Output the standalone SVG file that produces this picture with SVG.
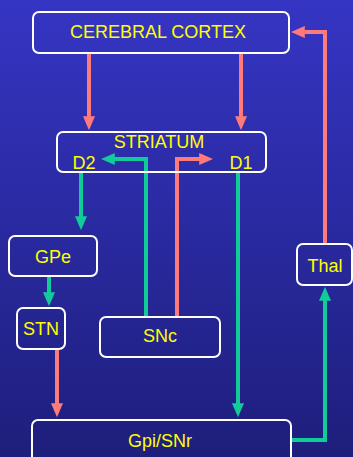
<svg xmlns="http://www.w3.org/2000/svg" width="353" height="457" viewBox="0 0 353 457">
<defs>
<linearGradient id="bg" x1="0" y1="0" x2="0" y2="1">
<stop offset="0" stop-color="#3535C4"/>
<stop offset="1" stop-color="#1E1E7C"/>
</linearGradient>
<marker id="ap" markerWidth="3.5" markerHeight="3" refX="2.2" refY="1.5" orient="auto" markerUnits="strokeWidth"><path d="M0,0 L3.5,1.5 L0,3 Z" fill="#FF7A7A"/></marker>
<marker id="ag" markerWidth="3.5" markerHeight="3" refX="2.2" refY="1.5" orient="auto" markerUnits="strokeWidth"><path d="M0,0 L3.5,1.5 L0,3 Z" fill="#11CC99"/></marker>
</defs>
<style>
.box{fill:none;stroke:#FFFFFF;stroke-width:2}
.t{font-family:"Liberation Sans",Arial,sans-serif;fill:#FFFF00;font-size:18px;text-anchor:middle}
.p{fill:none;stroke:#FF7A7A;stroke-width:4;marker-end:url(#ap)}
.g{fill:none;stroke:#11CC99;stroke-width:4;marker-end:url(#ag)}
</style>
<rect width="353" height="457" fill="url(#bg)"/>
<g id="connectors">
<path class="p" d="M89,53 V125"/>
<path class="p" d="M241,53 V125"/>
<path class="p" d="M325,244 V32 H296"/>
<path class="g" d="M146,317 V159 H106"/>
<path class="p" d="M177,317 V159 H208"/>
<path class="g" d="M81,173 V225"/>
<path class="g" d="M49,276 V301"/>
<path class="g" d="M238,173 V412"/>
<path class="p" d="M57,349 V412"/>
<path class="g" d="M291,440 H325 V292"/>
</g>
<g id="cortex"><rect class="box" x="33" y="12" width="256" height="41" rx="6"/><text class="t" x="158" y="38" font-size="19">CEREBRAL CORTEX</text></g>
<g id="striatum"><rect class="box" x="57" y="132" width="209" height="40" rx="6"/><text class="t" x="159" y="148">STRIATUM</text><text class="t" x="84" y="169">D2</text><text class="t" x="241" y="169">D1</text></g>
<g id="gpe"><rect class="box" x="9" y="236" width="88" height="40" rx="6"/><text class="t" x="53" y="263">GPe</text></g>
<g id="stn"><rect class="box" x="17" y="308" width="48" height="41" rx="6"/><text class="t" x="41" y="335">STN</text></g>
<g id="snc"><rect class="box" x="100" y="317" width="120" height="40" rx="6"/><text class="t" x="160" y="342">SNc</text></g>
<g id="thal"><rect class="box" x="297" y="244" width="55" height="41" rx="6"/><text class="t" x="325" y="272">Thal</text></g>
<g id="gpi"><rect class="box" x="32" y="420" width="259" height="50" rx="6"/><text class="t" x="160" y="447">Gpi/SNr</text></g>
</svg>
